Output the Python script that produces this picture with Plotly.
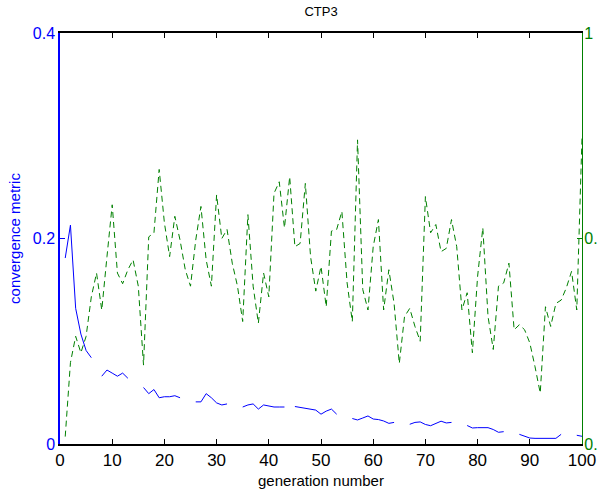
import plotly.graph_objects as go

# generation numbers
generations = list(range(1, 101))

# convergence metric (left axis, blue); None = no value at that generation
convergence = [
    0.181, 0.213, 0.132, 0.107, 0.091, 0.084, None, 0.066, 0.072, 0.069,
    0.066, 0.069, 0.064, None, None, 0.055, 0.049, 0.053, 0.045, 0.046,
    0.046, 0.047, 0.045, None, None, 0.041, 0.041, 0.049, 0.045, 0.040,
    0.038, 0.039, None, None, 0.036, 0.038, 0.039, 0.034, 0.038, 0.037,
    0.036, 0.036, 0.036, None, 0.0365, 0.0355, 0.0345, 0.0337, 0.033, 0.029,
    0.032, 0.034, 0.029, None, None, 0.0248, 0.0234, 0.0253, 0.0273, 0.0243,
    0.0238, 0.0224, 0.0201, 0.021, None, None, 0.0192, 0.021, 0.0215, 0.019,
    0.0178, 0.020, 0.0222, 0.0205, 0.021, None, None, 0.018, 0.0156, 0.0159,
    0.016, 0.0159, 0.0141, 0.0114, 0.012, None, None, 0.0094, 0.0073, 0.0058,
    0.0055, 0.0055, 0.0055, 0.0055, 0.0055, 0.0094, None, None, 0.0085, 0.0075,
]

# second metric (right axis, green dashed)
second_metric = [
    0.509, 0.599, 0.631, 0.611, 0.631, 0.679, 0.708, 0.663, 0.728, 0.791,
    0.708, 0.695, 0.712, 0.724, 0.692, 0.596, 0.752, 0.757, 0.834, 0.769,
    0.728, 0.777, 0.748, 0.712, 0.692, 0.748, 0.789, 0.724, 0.692, 0.803,
    0.750, 0.761, 0.720, 0.692, 0.649, 0.779, 0.692, 0.647, 0.708, 0.679,
    0.805, 0.819, 0.763, 0.825, 0.740, 0.744, 0.817, 0.728, 0.686, 0.716,
    0.667, 0.759, 0.761, 0.783, 0.696, 0.649, 0.870, 0.688, 0.663, 0.740,
    0.773, 0.663, 0.712, 0.671, 0.598, 0.655, 0.665, 0.643, 0.625, 0.801,
    0.757, 0.767, 0.734, 0.738, 0.773, 0.740, 0.663, 0.684, 0.611, 0.704,
    0.763, 0.655, 0.615, 0.692, 0.696, 0.720, 0.639, 0.645, 0.639, 0.623,
    0.594, 0.562, 0.667, 0.643, 0.671, 0.675, 0.690, 0.710, 0.663, 0.873,
]

x_ticks = [0, 10, 20, 30, 40, 50, 60, 70, 80, 90, 100]
left_ticks = [0, 0.2, 0.4]
right_ticks = [0.5, 0.75, 1]

BLUE = "#0000ff"
GREEN = "#008000"
FONT = "Liberation Sans, Arial, Helvetica, sans-serif"

fig = go.Figure()
fig.add_trace(go.Scatter(
    x=generations, y=convergence, mode="lines",
    line=dict(color=BLUE, width=1), connectgaps=False,
    name="convergence metric", yaxis="y",
))
fig.add_trace(go.Scatter(
    x=generations, y=second_metric, mode="lines",
    line=dict(color=GREEN, width=1, dash="6px,4px"),
    name="second metric", yaxis="y2",
))

fig.update_layout(
    width=597, height=493,
    margin=dict(l=60, r=15, t=33, b=49, pad=0),
    paper_bgcolor="white", plot_bgcolor="white",
    showlegend=False,
    font=dict(family=FONT, color="black"),
    title=dict(text="CTP3", x=0.5, xref="paper", xanchor="center",
               y=1 - 11 / 493, yref="container", yanchor="middle",
               font=dict(size=13, color="black")),
    xaxis=dict(
        range=[0, 100], tickvals=x_ticks, ticks="inside", ticklen=5,
        tickcolor="black", tickwidth=1, showline=True, linecolor="black",
        linewidth=1.5, mirror="ticks", showgrid=False, zeroline=False,
        tickfont=dict(size=17, color="black"),
        title=dict(text="generation number", font=dict(size=15, color="black"),
                   standoff=6),
        automargin=False,
    ),
    yaxis=dict(
        range=[0, 0.4], tickvals=left_ticks, ticks="inside", ticklen=5,
        tickcolor=BLUE, showline=True, linecolor=BLUE, linewidth=1.5,
        showgrid=False, zeroline=False,
        tickfont=dict(size=16, color=BLUE),
        title=dict(text="convergence metric", font=dict(size=15, color=BLUE),
                   standoff=9),
        automargin=False,
    ),
    yaxis2=dict(
        range=[0.5, 1], tickvals=right_ticks, overlaying="y", side="right",
        ticks="inside", ticklen=5, tickcolor=GREEN, showline=True,
        linecolor=GREEN, linewidth=1.2, showgrid=False, zeroline=False,
        tickfont=dict(size=16, color=GREEN), automargin=False,
        ticklabelstandoff=-2,
    ),
)

# remove the browser's default 8px body margin so the figure sits at (0, 0)
fig.write_html("out.html", config={"displayModeBar": False},
               post_script="document.body.style.margin='0';")
